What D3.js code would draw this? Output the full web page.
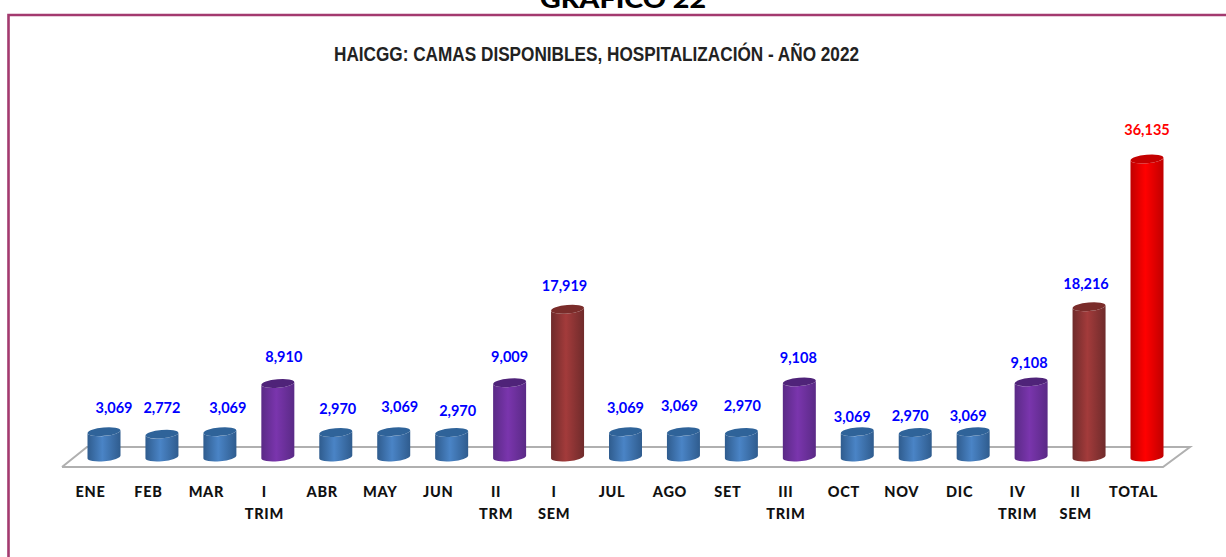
<!DOCTYPE html>
<html><head><meta charset="utf-8">
<script src="https://cdnjs.cloudflare.com/ajax/libs/d3/7.8.5/d3.min.js"></script>
<style>html,body{margin:0;padding:0;background:#fff;overflow:hidden}svg{display:block}</style>
</head><body><svg id="c" width="1226" height="557"></svg>
<script>
const categories=[["ENE"],["FEB"],["MAR"],["I","TRIM"],["ABR"],["MAY"],["JUN"],["II","TRM"],["I","SEM"],["JUL"],["AGO"],["SET"],["III","TRIM"],["OCT"],["NOV"],["DIC"],["IV","TRIM"],["II","SEM"],["TOTAL"]];
const values=[3069,2772,3069,8910,2970,3069,2970,9009,17919,3069,3069,2970,9108,3069,2970,3069,9108,18216,36135];
const kinds=["m","m","m","t","m","m","m","t","s","m","m","m","t","m","m","m","t","s","a"];
const kindNames=["m","t","s","a"];
const sideColors=["#2f5c8e","#5a2a86","#6f2b2b","#c00000"];
const midColors=["#4a84c6","#7a35ad","#a33b3b","#ff0000"];
const topColors=["#2f6399","#4f2379","#7a2c2a","#c40000"];
const labelColors=["#0000ff","#0000ff","#0000ff","#ff0000"];
const titleText="HAICGG: CAMAS DISPONIBLES, HOSPITALIZACIÓN - AÑO 2022";
const headText="GRÁFICO 22";
// hand-placed data-label nudges relative to each bar, as in the original chart
const labelNudgeX=[10,0,8,6,2,6,6,0,-3,0,-4,1,-1,-5,-5,-5,-2,-3,0];
const labelNudgeY=[1,-2,1,-2,1,0,3,-1,1,1,-1,-2,1,10,8,9,6,2,-5];

const svg=d3.select("#c");
const idx=d3.range(values.length);
const x=d3.scaleLinear().domain([0,values.length-1]).range([104,1147]);
const y=d3.scaleLinear().domain([0,36135]).range([457,159]);
const rx=16.5, ry=4.2, tilt=-5;

const defs=svg.append("defs");
kindNames.forEach((k,i)=>{
  const g=defs.append("linearGradient").attr("id","g"+k).attr("x1",0).attr("x2",1).attr("y1",0).attr("y2",0);
  g.append("stop").attr("offset","0%").attr("stop-color",sideColors[i]);
  g.append("stop").attr("offset","45%").attr("stop-color",midColors[i]);
  g.append("stop").attr("offset","100%").attr("stop-color",sideColors[i]);
});

svg.append("path").attr("d","M8.5 557V15H1226").attr("fill","none").attr("stroke","#a33a6f").attr("stroke-width",2.6);
svg.append("text").text(headText).attr("x",623).attr("y",8).attr("text-anchor","middle")
  .attr("font-family","Lato").attr("font-weight",900).attr("font-size",24)
  .attr("textLength",166).attr("lengthAdjust","spacingAndGlyphs").attr("fill","#000");
svg.append("text").text(titleText).attr("x",596.5).attr("y",61).attr("text-anchor","middle")
  .attr("font-family","Liberation Sans").attr("font-weight",700).attr("font-size",20.5)
  .attr("textLength",525).attr("lengthAdjust","spacingAndGlyphs").attr("fill","#222");

const floor=d3.line();
svg.append("path").attr("d",floor([[62,467],[1163,467],[1190,447],[87,447],[62,467]]))
  .attr("fill","#fff").attr("stroke","#b0b0b0").attr("stroke-width",2);

const bars=svg.append("g").selectAll("g").data(idx).join("g");
bars.append("path")
  .attr("d",i=>{
    const cx=x(i), top=y(values[i]), base=y(0), dy=rx*Math.sin(tilt*Math.PI/180);
    return `M${cx-rx} ${top-dy}L${cx-rx} ${base-dy}A${rx} ${ry} ${tilt} 0 0 ${cx+rx} ${base+dy}L${cx+rx} ${top+dy}A${rx} ${ry} ${tilt} 0 1 ${cx-rx} ${top-dy}Z`;
  })
  .attr("fill",i=>`url(#g${kinds[i]})`);
bars.append("ellipse")
  .attr("rx",rx).attr("ry",ry)
  .attr("transform",i=>`translate(${x(i)},${y(values[i])}) rotate(${tilt})`)
  .attr("fill",i=>topColors[kindNames.indexOf(kinds[i])]);

svg.append("g").selectAll("text").data(idx).join("text")
  .text(i=>d3.format(",")(values[i]))
  .attr("x",i=>x(i)+labelNudgeX[i]).attr("y",i=>y(values[i])-19.5+labelNudgeY[i])
  .attr("text-anchor","middle").attr("font-family","Lato").attr("font-weight",700).attr("font-size",14.5)
  .attr("fill",i=>labelColors[kindNames.indexOf(kinds[i])]);

const cats=svg.append("g").selectAll("text").data(idx).join("text")
  .attr("text-anchor","middle").attr("font-family","Lato").attr("font-weight",900).attr("font-size",14.5)
  .attr("letter-spacing",0.7).attr("fill","#111");
cats.selectAll("tspan").data(i=>categories[i].map(t=>({t,i}))).join("tspan")
  .attr("x",d=>x(d.i)-13.5).attr("y",(d,j)=>497+j*22).text(d=>d.t);
</script></body></html>
